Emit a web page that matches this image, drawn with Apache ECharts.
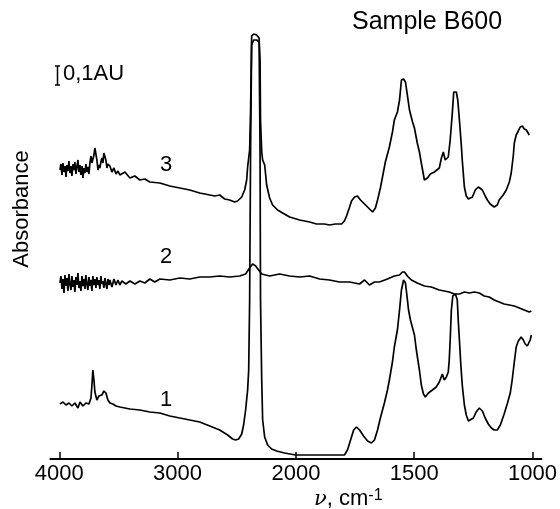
<!DOCTYPE html>
<html>
<head>
<meta charset="utf-8">
<script src="https://cdn.jsdelivr.net/npm/echarts@6/dist/echarts.min.js"></script>
<style>html,body{margin:0;padding:0;background:#fff}#c{width:560px;height:509px}</style>
</head>
<body>
<div id="c"></div>
<script>
// Tick labels (wavenumber, cm-1); the axis changes scale at 2000 cm-1
var xTickLabels = [4000, 3000, 2000, 1500, 1000];
var curveLabels = ['3', '2', '1'];

// Curve 3 (top)
var wn3 = [3994,3986,3977,3969,3960,3952,3943,3935,3927,3918,3910,3901,3893,3884,3876,3868,3859,3851,3842,3834,3825,3817,3808,3800,3791,3783,3775,3766,3758,3749,3741,3732,3724,3716,3707,3699,3690,3682,3673,3665,3657,3648,3640,3631,3623,3614,3606,3597,3589,3572,3555,3538,3521,3504,3488,3445,3403,3361,3319,3277,3235,3150,3066,2981,2897,2813,2728,2686,2644,2602,2560,2518,2493,2458,2433,2416,2408,2391,2383,2374,2357,2332,2311,2303,2299,2289,2281,2264,2247,2222,2197,2155,2112,2053,1984,1942,1913,1879,1858,1833,1807,1795,1786,1773,1765,1752,1740,1727,1710,1693,1676,1664,1655,1643,1634,1622,1605,1592,1584,1571,1562,1554,1545,1537,1529,1520,1507,1499,1487,1478,1470,1457,1444,1432,1415,1394,1385,1377,1369,1356,1348,1339,1333,1322,1316,1309,1301,1297,1288,1280,1271,1263,1254,1242,1229,1221,1212,1200,1191,1179,1162,1149,1141,1124,1111,1098,1090,1081,1077,1069,1060,1052,1043,1035,1026,1014];
var ab3 = [1.445,1.475,1.42,1.48,1.435,1.465,1.41,1.47,1.44,1.49,1.43,1.465,1.415,1.475,1.445,1.485,1.425,1.46,1.495,1.435,1.47,1.42,1.465,1.405,1.455,1.43,1.475,1.435,1.46,1.425,1.48,1.515,1.48,1.48,1.52,1.555,1.56,1.495,1.445,1.47,1.455,1.485,1.505,1.48,1.53,1.54,1.495,1.455,1.475,1.465,1.435,1.455,1.425,1.44,1.42,1.435,1.405,1.415,1.395,1.4,1.385,1.38,1.365,1.355,1.345,1.33,1.32,1.315,1.32,1.3,1.295,1.285,1.29,1.31,1.345,1.395,1.46,1.545,1.745,2.115,2.125,2.12,2.105,1.995,1.695,1.535,1.495,1.47,1.37,1.305,1.27,1.245,1.23,1.21,1.195,1.185,1.175,1.175,1.17,1.175,1.175,1.19,1.215,1.26,1.29,1.31,1.315,1.295,1.275,1.255,1.235,1.255,1.295,1.355,1.41,1.485,1.56,1.635,1.695,1.735,1.795,1.895,1.9,1.885,1.82,1.745,1.685,1.655,1.58,1.535,1.48,1.395,1.405,1.425,1.435,1.455,1.505,1.535,1.495,1.51,1.595,1.73,1.835,1.835,1.795,1.695,1.57,1.495,1.36,1.315,1.3,1.3,1.31,1.345,1.36,1.35,1.345,1.315,1.295,1.275,1.26,1.27,1.295,1.32,1.345,1.385,1.43,1.52,1.58,1.62,1.64,1.66,1.665,1.65,1.645,1.62];

// Curve 2 (middle)
var wn2 = [3994,3986,3977,3969,3960,3952,3943,3935,3927,3918,3910,3901,3893,3884,3876,3868,3859,3851,3842,3834,3825,3817,3808,3800,3791,3783,3775,3766,3758,3749,3741,3732,3724,3716,3707,3699,3690,3682,3673,3665,3657,3648,3640,3631,3623,3614,3606,3597,3589,3580,3572,3555,3538,3521,3504,3488,3471,3437,3403,3361,3319,3277,3235,3193,3150,3066,2981,2897,2813,2728,2644,2560,2475,2425,2391,2366,2340,2315,2289,2222,2138,2053,1984,1942,1900,1858,1816,1773,1731,1710,1689,1668,1647,1613,1584,1562,1550,1541,1529,1512,1487,1457,1428,1394,1352,1331,1309,1288,1267,1246,1225,1204,1183,1162,1141,1120,1098,1077,1056,1035,1014,1005];
var ab2 = [0.88,0.915,0.85,0.9,0.83,0.92,0.865,0.905,0.84,0.925,0.875,0.845,0.915,0.86,0.895,0.835,0.91,0.87,0.93,0.855,0.89,0.84,0.915,0.865,0.9,0.85,0.92,0.875,0.845,0.91,0.865,0.895,0.84,0.915,0.87,0.9,0.855,0.91,0.87,0.895,0.85,0.915,0.875,0.89,0.855,0.905,0.875,0.85,0.9,0.87,0.895,0.86,0.9,0.87,0.895,0.87,0.89,0.875,0.89,0.875,0.89,0.88,0.9,0.885,0.9,0.895,0.905,0.9,0.91,0.91,0.915,0.91,0.915,0.925,0.955,0.975,0.965,0.945,0.925,0.915,0.925,0.915,0.91,0.915,0.9,0.895,0.885,0.885,0.875,0.895,0.87,0.885,0.885,0.9,0.915,0.92,0.935,0.935,0.915,0.895,0.88,0.865,0.86,0.845,0.835,0.825,0.825,0.835,0.83,0.835,0.83,0.815,0.81,0.795,0.785,0.775,0.77,0.765,0.755,0.745,0.735,0.74];

// Curve 1 (bottom)
var wn1 = [3994,3969,3943,3918,3893,3868,3842,3825,3800,3775,3749,3732,3724,3716,3707,3699,3682,3665,3640,3623,3606,3589,3572,3547,3521,3488,3403,3319,3235,3150,3066,2981,2897,2813,2728,2644,2577,2535,2510,2484,2458,2442,2425,2408,2399,2391,2383,2374,2357,2332,2311,2303,2299,2289,2281,2264,2239,2205,2163,2096,2003,1942,1858,1795,1782,1769,1756,1744,1731,1714,1697,1681,1668,1655,1643,1626,1613,1605,1592,1584,1571,1562,1554,1545,1537,1532,1524,1516,1507,1499,1491,1478,1470,1461,1453,1440,1423,1407,1394,1381,1373,1364,1356,1352,1348,1343,1337,1326,1318,1314,1309,1303,1297,1288,1280,1271,1263,1250,1238,1225,1212,1200,1187,1174,1162,1149,1136,1120,1107,1094,1086,1077,1069,1060,1048,1039,1031,1022,1014,1010,1005];
var ab1 = [0.275,0.285,0.27,0.28,0.265,0.28,0.255,0.285,0.265,0.28,0.275,0.305,0.37,0.445,0.395,0.335,0.295,0.315,0.32,0.34,0.33,0.295,0.28,0.275,0.265,0.26,0.25,0.245,0.235,0.23,0.215,0.205,0.195,0.185,0.165,0.145,0.12,0.1,0.095,0.1,0.125,0.17,0.245,0.345,0.445,0.795,1.545,2.07,2.095,2.095,2.085,1.545,0.795,0.395,0.195,0.11,0.07,0.05,0.04,0.03,0.02,0.02,0.02,0.02,0.045,0.095,0.145,0.16,0.145,0.115,0.09,0.08,0.095,0.145,0.205,0.28,0.345,0.395,0.485,0.56,0.645,0.745,0.845,0.895,0.88,0.83,0.745,0.695,0.655,0.62,0.545,0.445,0.37,0.325,0.31,0.33,0.345,0.36,0.385,0.425,0.395,0.41,0.435,0.495,0.595,0.745,0.815,0.825,0.795,0.695,0.595,0.47,0.37,0.27,0.22,0.19,0.185,0.205,0.235,0.255,0.24,0.205,0.175,0.155,0.145,0.145,0.17,0.225,0.275,0.33,0.395,0.485,0.56,0.59,0.61,0.595,0.575,0.565,0.575,0.595,0.62];

// piecewise axis: 4000..2000 and 2000..1000 each occupy two equal units
function toT(v) { return v >= 2000 ? (4000 - v) / 1000 : 2 + (2000 - v) / 500; }
function pairs(wn, ab) { return wn.map(function (v, i) { return [toT(v), ab[i]]; }); }

var chart = echarts.init(document.getElementById('c'), null, {renderer: 'canvas'});
var ticks = xTickLabels.map(toT);
var lineSeries = function (wn, ab) {
  return { type: 'line', data: pairs(wn, ab), showSymbol: false, clip: false, silent: true,
    lineStyle: { color: '#000', width: 1.7 }, animation: false };
};
var FONT = "'Liberation Sans', Arial, sans-serif";
chart.setOption({
  backgroundColor: '#fff',
  animation: false,
  grid: { left: 50.4, right: 17.8, top: 19, bottom: 50 },
  xAxis: {
    type: 'value', min: -0.075, max: 4.075,
    axisLine: { show: true, lineStyle: { color: '#000', width: 2 } },
    axisTick: { show: true, inside: true, length: 7, customValues: ticks, lineStyle: { color: '#000', width: 1.5 } },
    axisLabel: { customValues: ticks, margin: 4, color: '#000', fontSize: 22, fontFamily: FONT,
      formatter: function (t) { var i = ticks.indexOf(t); return i >= 0 ? String(xTickLabels[i]) : ''; } },
    splitLine: { show: false }
  },
  yAxis: { type: 'value', min: 0, max: 2.2, show: false },
  series: [lineSeries(wn3, ab3), lineSeries(wn2, ab2), lineSeries(wn1, ab1)],
  graphic: [
    { type: 'text', left: 352, top: 10, style: { text: 'Sample B600', font: '25px ' + FONT, fill: '#000' } },
    { type: 'text', left: 63, top: 63, style: { text: '0,1AU', font: '22px ' + FONT, fill: '#000' } },
    { type: 'polyline', shape: { points: [[55, 66], [60, 66]] }, style: { stroke: '#000', lineWidth: 1.5 } },
    { type: 'polyline', shape: { points: [[55, 85], [60, 85]] }, style: { stroke: '#000', lineWidth: 1.5 } },
    { type: 'polyline', shape: { points: [[57.5, 66], [57.5, 85]] }, style: { stroke: '#000', lineWidth: 1.5 } },
    { type: 'text', x: 22, y: 209, rotation: Math.PI / 2, style: { text: 'Absorbance', font: '22px ' + FONT, fill: '#000', align: 'center', verticalAlign: 'middle' } },
    { type: 'text', x: 166, y: 165, style: { text: curveLabels[0], font: '22px ' + FONT, fill: '#000', align: 'center', verticalAlign: 'middle' } },
    { type: 'text', x: 166, y: 257, style: { text: curveLabels[1], font: '22px ' + FONT, fill: '#000', align: 'center', verticalAlign: 'middle' } },
    { type: 'text', x: 166, y: 400, style: { text: curveLabels[2], font: '22px ' + FONT, fill: '#000', align: 'center', verticalAlign: 'middle' } },
    { type: 'text', x: 314, y: 488, style: {
      text: '{i|ν}{n|, cm}{s|-1}',
      rich: {
        i: { fontFamily: "'DejaVu Serif', serif", fontStyle: 'italic', fontSize: 21, fill: '#000', verticalAlign: 'bottom', lineHeight: 22 },
        n: { fontFamily: FONT, fontSize: 22, fill: '#000', verticalAlign: 'bottom', lineHeight: 22 },
        s: { fontFamily: FONT, fontSize: 16, fill: '#000', verticalAlign: 'top', lineHeight: 22 }
      } } }
  ]
});
</script>
</body>
</html>
